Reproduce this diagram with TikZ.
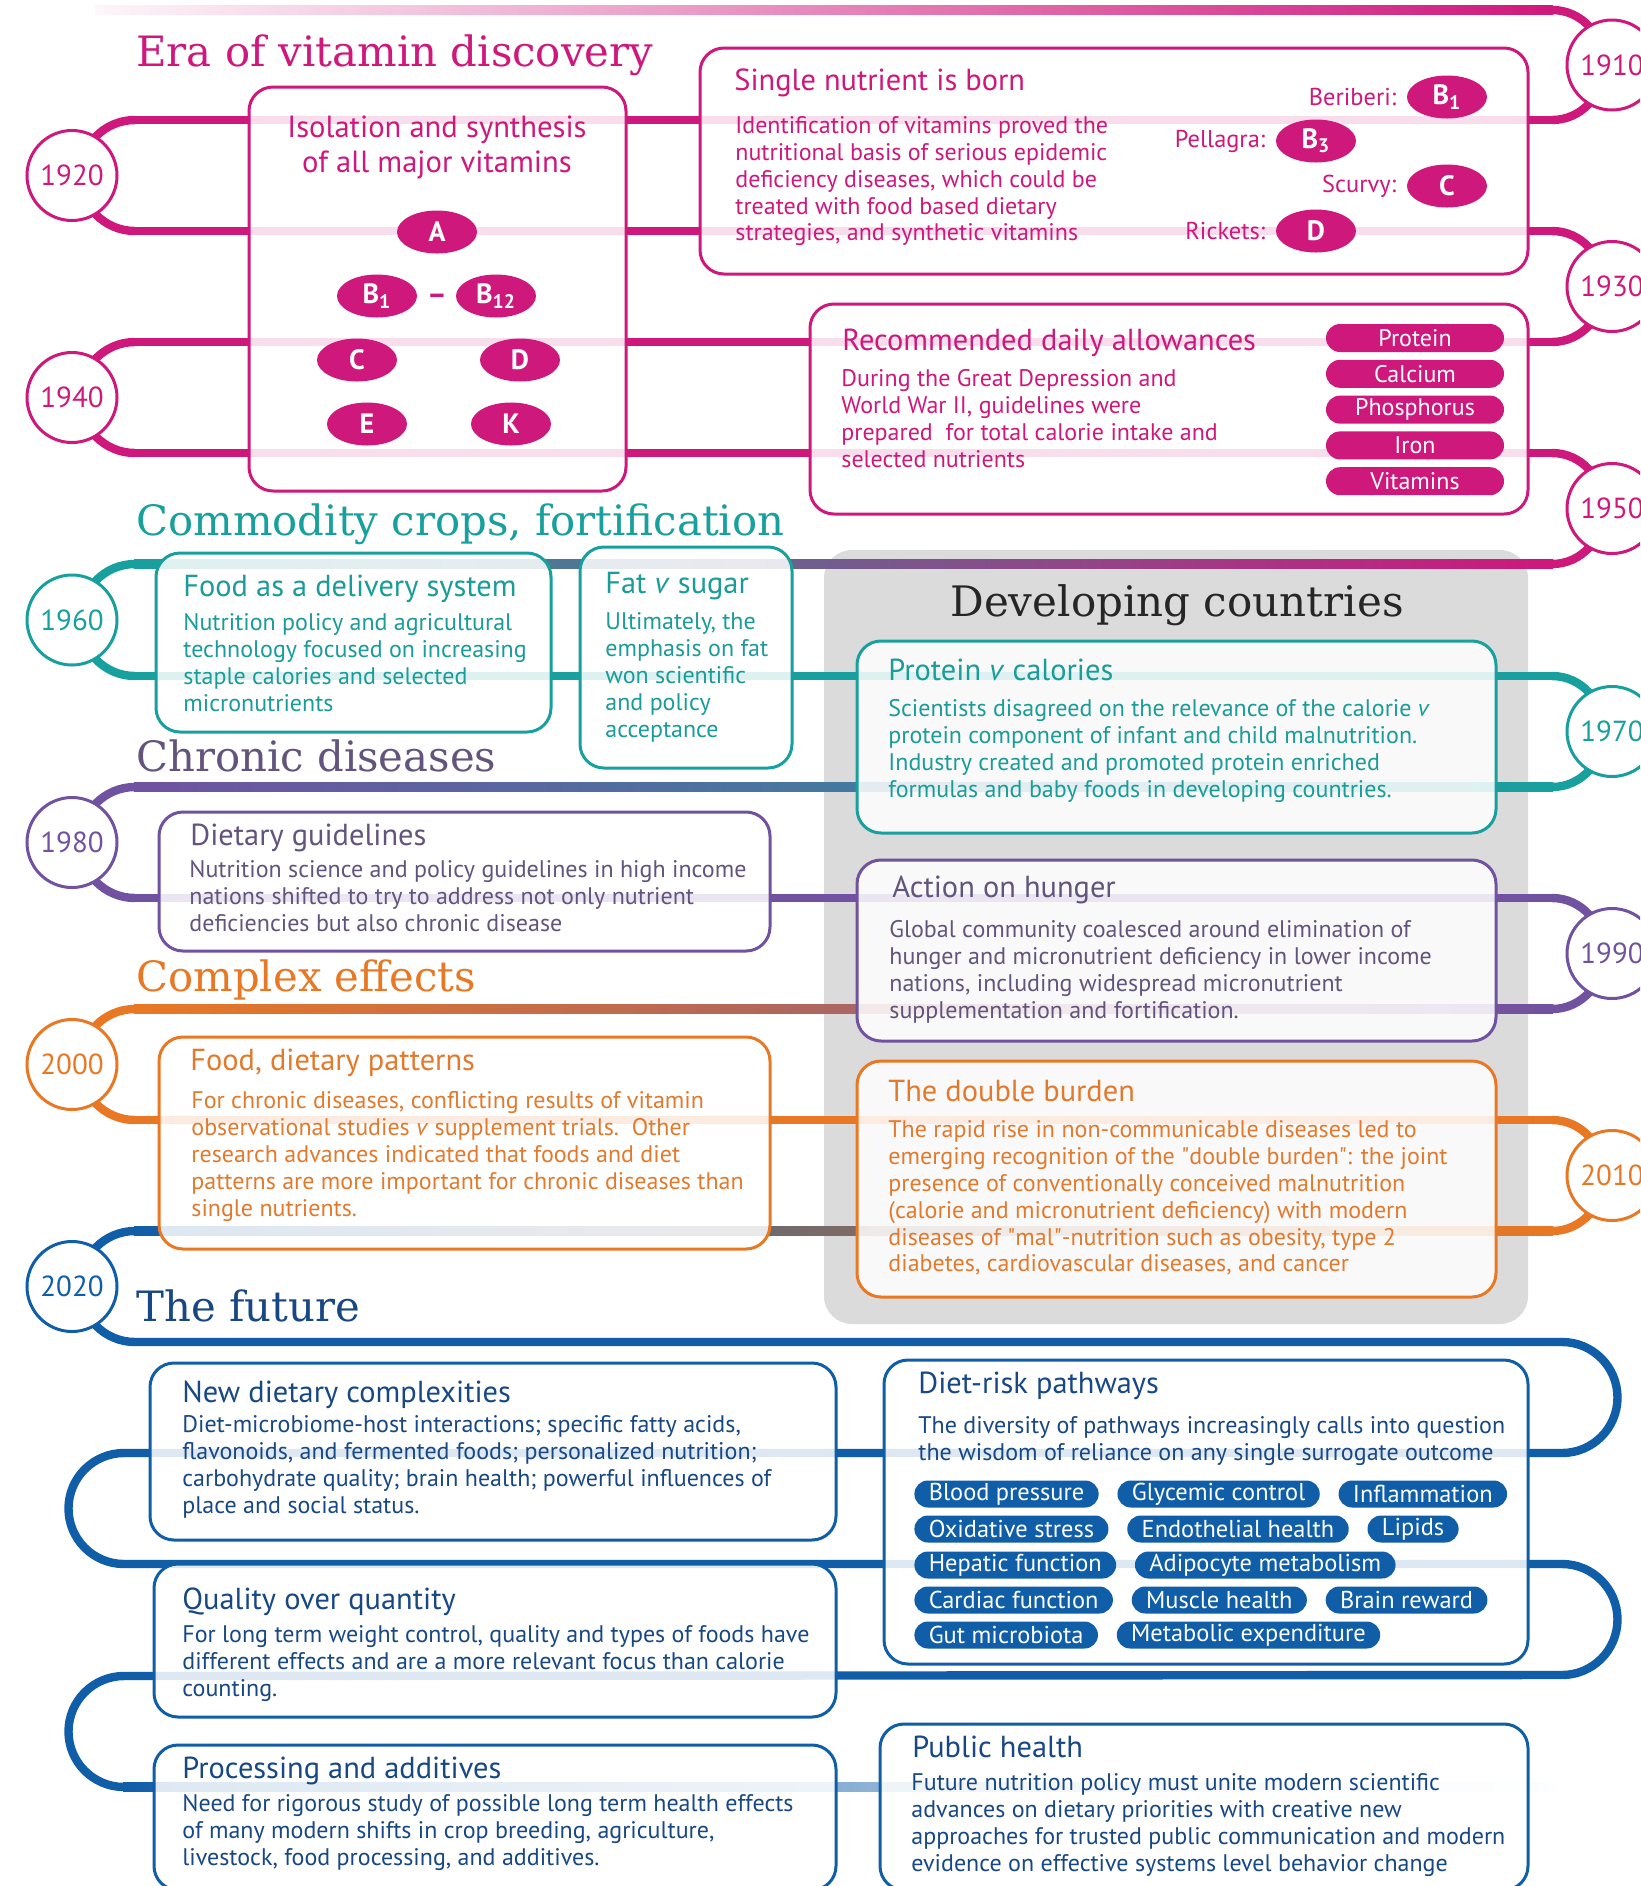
\documentclass[tikz,border=0pt]{standalone}
\usepackage{fontspec}
\setmainfont{PT Sans}
\newfontfamily\slabfont{DejaVu Serif}
\usetikzlibrary{positioning,shapes.geometric}

\definecolor{vitpink}{RGB}{206,24,124}
\definecolor{cropteal}{RGB}{24,160,158}
\definecolor{chronpurple}{RGB}{112,82,160}
\definecolor{cplxorange}{RGB}{232,120,36}
\definecolor{futblue}{RGB}{16,94,168}
\definecolor{mauve}{RGB}{140,112,150}
\definecolor{lavender}{RGB}{165,170,220}
\definecolor{panelgrey}{RGB}{219,219,219}
\definecolor{purpletext}{RGB}{98,84,124}
\definecolor{bluetext}{RGB}{24,72,132}
\definecolor{orangetext}{RGB}{226,122,46}
\definecolor{tealtext}{RGB}{26,156,152}

\tikzset{
  tline/.style={line width=4.2pt, draw=#1},
  box/.style={draw=#1, line width=1.5pt, rounded corners=12pt, fill=white, fill opacity=0.86},
  yearc/.style={circle, draw=#1, text=#1, fill=white, line width=1.5pt, minimum size=45pt, inner sep=0pt, font=\fontsize{14.5}{16}\selectfont},
  era/.style={anchor=base west, inner sep=0pt, text=#1, font=\slabfont\fontsize{20.9}{24}\selectfont},
  head/.style={anchor=base west, inner sep=0pt, text=#1, font=\fontsize{15.2}{17.5}\selectfont},
  body/.style={anchor=north west, inner sep=0pt, align=left, text=#1, font=\fontsize{12}{13.45}\selectfont},
  vit/.style={ellipse, fill=vitpink, text=white, minimum width=40pt, minimum height=21.5pt, inner sep=0pt, font=\bfseries\fontsize{14}{16}\selectfont},
  lbl/.style={inner sep=0pt, text=vitpink, font=\fontsize{12.2}{14}\selectfont},
  rda/.style={fill=vitpink, text=white, rounded corners=7pt, minimum width=89pt, minimum height=14pt, inner sep=0pt, font=\fontsize{12}{13}\selectfont},
  risk/.style={fill=futblue, text=white, rounded corners=6.75pt, minimum height=13.5pt, inner xsep=7.2pt, inner ysep=0pt, font=\fontsize{12.2}{13}\selectfont}
}

\newcommand\bendright[3]{\draw[tline=#1] (1552,#2) to[out=0,in=90] (1604,{(#2+#3)/2}) to[out=-90,in=0] (1552,#3);}
\newcommand\bendleft[3]{\draw[tline=#1] (135,#2) to[out=180,in=90] (80,{(#2+#3)/2}) to[out=-90,in=180] (135,#3);}

\begin{document}
\begin{tikzpicture}[x=0.5pt,y=-0.5pt]
\useasboundingbox (0,0) rectangle (1640,1886);
\clip (0,0) rectangle (1640,1886);
\fill[white] (0,0) rectangle (1640,1886);
\fill[panelgrey, rounded corners=14pt] (824,550) rectangle (1528,1324);

\shade[left color=vitpink!4, right color=vitpink] (95,5.8) rectangle (1553,14.2);
\bendright{vitpink}{10}{120}
\draw[tline=vitpink] (135,120) -- (1552,120);
\bendleft{vitpink}{120}{231}
\draw[tline=vitpink] (135,231) -- (1552,231);
\bendright{vitpink}{231}{342}
\draw[tline=vitpink] (135,342) -- (1552,342);
\bendleft{vitpink}{342}{453}
\draw[tline=vitpink] (135,453) -- (1552,453);
\bendright{vitpink}{453}{564}
\shade[left color=cropteal, middle color=mauve, right color=vitpink] (134,559.8) rectangle (1553,568.2);
\bendleft{cropteal}{564}{676}
\draw[tline=cropteal] (135,676) -- (1552,676);
\bendright{cropteal}{676}{787}
\shade[left color=chronpurple, right color=cropteal] (134,782.8) rectangle (1553,791.2);
\bendleft{chronpurple}{787}{898}
\draw[tline=chronpurple] (135,898) -- (1552,898);
\bendright{chronpurple}{898}{1009}
\shade[left color=cplxorange, middle color=cplxorange!80!chronpurple, right color=chronpurple] (134,1004.8) rectangle (1553,1013.2);
\bendleft{cplxorange}{1009}{1120}
\draw[tline=cplxorange] (135,1120) -- (1552,1120);
\bendright{cplxorange}{1120}{1231}
\shade[left color=futblue, middle color=mauve, right color=cplxorange] (134,1226.8) rectangle (1553,1235.2);
\bendleft{futblue}{1231}{1342}
\draw[tline=futblue] (135,1342) -- (1562,1342) arc[start angle=90, end angle=-90, radius=27.75pt]
  -- (124,1453) arc[start angle=90, end angle=270, radius=27.75pt]
  -- (1562,1564) arc[start angle=90, end angle=-90, radius=27.75pt]
  -- (124,1676) arc[start angle=90, end angle=270, radius=27.75pt];
\shade[left color=futblue, middle color=lavender, right color=white] (123,1782.8) rectangle (1560,1791.2);

\draw[box=vitpink] (249,87) rectangle (626,491);
\draw[box=vitpink] (700,48) rectangle (1528,274);
\draw[box=vitpink] (810,304) rectangle (1528,514);
\draw[box=cropteal] (156,553) rectangle (551,732);
\draw[box=cropteal] (580,547) rectangle (792,768);
\draw[box=chronpurple] (159,812) rectangle (770,951);
\draw[box=cplxorange] (159,1037) rectangle (770,1249);
\draw[box=cropteal] (857,641) rectangle (1496,833);
\draw[box=chronpurple] (857,860) rectangle (1496,1041);
\draw[box=cplxorange] (857,1061) rectangle (1496,1297);
\draw[box=futblue] (150,1363) rectangle (836,1540);
\draw[box=futblue] (154,1564) rectangle (836,1717);
\draw[box=futblue] (154,1745) rectangle (836,1890);
\draw[box=futblue] (884,1360) rectangle (1528,1664);
\draw[box=futblue] (880,1724) rectangle (1528,1890);

\node[yearc=vitpink] (y1910) at (1612,65) {1910};
\node[yearc=vitpink] (y1920) at (72,175.5) {1920};
\node[yearc=vitpink] (y1930) at (1612,286.5) {1930};
\node[yearc=vitpink] (y1940) at (72,397.5) {1940};
\node[yearc=vitpink] (y1950) at (1612,508.5) {1950};
\node[yearc=cropteal] (y1960) at (72,620) {1960};
\node[yearc=cropteal] (y1970) at (1612,731.5) {1970};
\node[yearc=chronpurple] (y1980) at (72,842.5) {1980};
\node[yearc=chronpurple] (y1990) at (1612,953.5) {1990};
\node[yearc=cplxorange] (y2000) at (72,1064.5) {2000};
\node[yearc=cplxorange] (y2010) at (1612,1175.5) {2010};
\node[yearc=futblue] (y2020) at (72,1286.5) {2020};

\node[era=vitpink] (eravit) at (136,66) {Era of vitamin discovery};
\node[era=cropteal] (eracrop) at (136,535) {Commodity crops, fortification};
\node[era=purpletext] (erachron) at (136,771) {Chronic diseases};
\node[era=cplxorange] (eracplx) at (136,991) {Complex effects};
\node[era=bluetext] (erafut) at (136,1321) {The future};
\node[era=black!85, anchor=base, font=\slabfont\fontsize{21}{24}\selectfont] (devel) at (1177,616) {Developing countries};

\node[head=vitpink, anchor=north, align=center, font=\fontsize{15.3}{17.5}\selectfont] (isohd) at (437,115) {Isolation and synthesis\\of all major vitamins};
\node[vit] (vita) at (437,232) {A};
\node[vit] (vitbone) at (377,296) {B\textsubscript{1}};
\node[vit] (vitbtwelve) at (496,296) {B\textsubscript{12}};
\node[text=vitpink, font=\bfseries\fontsize{15}{16}\selectfont] (bdash) at (437,299) {--};
\node[vit] (vitc) at (357,360) {C};
\node[vit] (vitd) at (520,360) {D};
\node[vit] (vite) at (367,424) {E};
\node[vit] (vitk) at (511,424) {K};

\node[head=vitpink] (singlehd) at (734,90) {Single nutrient is born};
\node[body=vitpink] (singletxt) at (735,116) {Identification of vitamins proved the\\nutritional basis of serious epidemic\\deficiency diseases, which could be\\treated with food based dietary\\strategies, and synthetic vitamins};
\node[vit] (snbone) at (1447,97) {B\textsubscript{1}};
\node[vit] (snbthree) at (1316,141) {B\textsubscript{3}};
\node[vit] (snc) at (1447,186) {C};
\node[vit] (snd) at (1316,231) {D};
\node[lbl, left=5pt of snbone] (beri) {Beriberi:};
\node[lbl, left=5pt of snbthree] (pell) {Pellagra:};
\node[lbl, left=5pt of snc] (scur) {Scurvy:};
\node[lbl, left=5pt of snd] (rick) {Rickets:};

\node[head=vitpink] (rdahd) at (842,350) {Recommended daily allowances};
\node[body=vitpink] (rdatxt) at (841,369) {During the Great Depression and\\World War II, guidelines were\\prepared\ \ for total calorie intake and\\selected nutrients};
\node[rda] (rdaprot) at (1415,338) {Protein};
\node[rda, below=3.5pt of rdaprot] (rdacal) {Calcium};
\node[rda, below=3.5pt of rdacal] (rdaphos) {Phosphorus};
\node[rda, below=3.5pt of rdaphos] (rdairon) {Iron};
\node[rda, below=3.5pt of rdairon] (rdavit) {Vitamins};

\node[head=tealtext] (foodhd) at (183,596) {Food as a delivery system};
\node[body=tealtext] (foodtxt) at (183,613) {Nutrition policy and agricultural\\technology focused on increasing\\staple calories and selected\\micronutrients};
\node[head=tealtext] (fathd) at (605,593) {Fat \textit{v} sugar};
\node[body=tealtext] (fattxt) at (605,612) {Ultimately, the\\emphasis on fat\\won scientific\\and policy\\acceptance};

\node[head=purpletext] (dghd) at (190,845) {Dietary guidelines};
\node[body=purpletext] (dgtxt) at (189,860) {Nutrition science and policy guidelines in high income\\nations shifted to try to address not only nutrient\\deficiencies but also chronic disease};

\node[head=orangetext] (fdphd) at (190,1070) {Food, dietary patterns};
\node[body=orangetext] (fdptxt) at (191,1091) {For chronic diseases, conflicting results of vitamin\\observational studies \textit{v} supplement trials.\ \ Other\\research advances indicated that foods and diet\\patterns are more important for chronic diseases than\\single nutrients.};

\node[head=tealtext] (pvchd) at (888,680) {Protein \textit{v} calories};
\node[body=tealtext] (pvctxt) at (888,699) {Scientists disagreed on the relevance of the calorie \textit{v}\\protein component of infant and child malnutrition.\\Industry created and promoted protein enriched\\formulas and baby foods in developing countries.};

\node[head=purpletext] (aohhd) at (892,897) {Action on hunger};
\node[body=purpletext] (aohtxt) at (889,920) {Global community coalesced around elimination of\\hunger and micronutrient deficiency in lower income\\nations, including widespread micronutrient\\supplementation and fortification.};

\node[head=orangetext] (tdbhd) at (888,1101) {The double burden};
\node[body=orangetext] (tdbtxt) at (888,1120) {The rapid rise in non-communicable diseases led to\\emerging recognition of the \textquotedbl double burden\textquotedbl: the joint\\presence of conventionally conceived malnutrition\\(calorie and micronutrient deficiency) with modern\\diseases of \textquotedbl mal\textquotedbl-nutrition such as obesity, type 2\\diabetes, cardiovascular diseases, and cancer};

\node[head=bluetext] (ndchd) at (182,1402) {New dietary complexities};
\node[body=bluetext] (ndctxt) at (182,1415) {Diet-microbiome-host interactions; specific fatty acids,\\flavonoids, and fermented foods; personalized nutrition;\\carbohydrate quality; brain health; powerful influences of\\place and social status.};

\node[head=bluetext] (qoqhd) at (182,1609) {Quality over quantity};
\node[body=bluetext] (qoqtxt) at (182,1625) {For long term weight control, quality and types of foods have\\different effects and are a more relevant focus than calorie\\counting.};

\node[head=bluetext] (paahd) at (182,1778) {Processing and additives};
\node[body=bluetext] (paatxt) at (182,1794) {Need for rigorous study of possible long term health effects\\of many modern shifts in crop breeding, agriculture,\\livestock, food processing, and additives.};

\node[head=bluetext] (drphd) at (918,1393) {Diet-risk pathways};
\node[body=bluetext] (drptxt) at (918,1416) {The diversity of pathways increasingly calls into question\\the wisdom of reliance on any single surrogate outcome};
\node[risk, anchor=west] (bp) at (914,1494) {Blood pressure};
\node[risk, right=9pt of bp] (gc) {Glycemic control};
\node[risk, right=9pt of gc] (infl) {Inflammation};
\node[risk, anchor=west] (ox) at (914,1529) {Oxidative stress};
\node[risk, right=9pt of ox] (endo) {Endothelial health};
\node[risk, right=9pt of endo] (lip) {Lipids};
\node[risk, anchor=west] (hep) at (914,1565) {Hepatic function};
\node[risk, right=9pt of hep] (adipo) {Adipocyte metabolism};
\node[risk, anchor=west] (card) at (914,1600) {Cardiac function};
\node[risk, right=9pt of card] (musc) {Muscle health};
\node[risk, right=9pt of musc] (brain) {Brain reward};
\node[risk, anchor=west] (gut) at (914,1635) {Gut microbiota};
\node[risk, right=9pt of gut] (metab) {Metabolic expenditure};

\node[head=bluetext] (pubhd) at (912,1757) {Public health};
\node[body=bluetext] (pubtxt) at (911,1773) {Future nutrition policy must unite modern scientific\\advances on dietary priorities with creative new\\approaches for trusted public communication and modern\\evidence on effective systems level behavior change};
\end{tikzpicture}
\end{document}
